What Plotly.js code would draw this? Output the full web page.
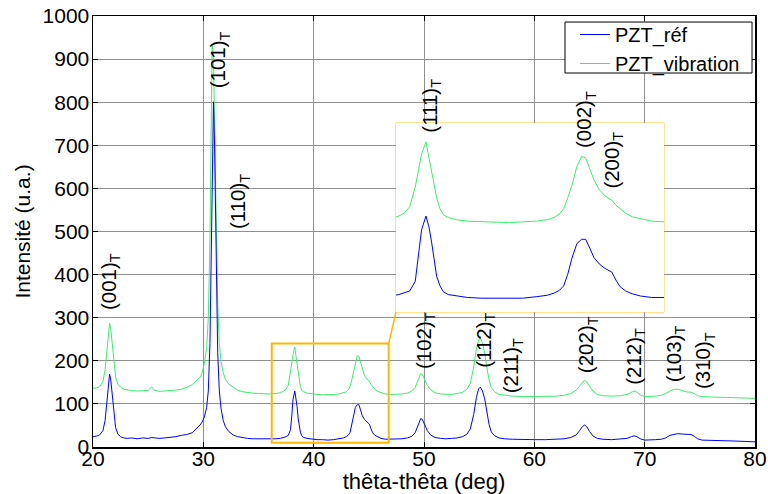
<!DOCTYPE html>
<html><head><meta charset="utf-8">
<script src="https://cdn.plot.ly/plotly-3.0.1.min.js"></script>
<style>body{margin:0;background:#fff}#chart{width:768px;height:494px}</style>
</head><body><div id="chart"></div>
<script>
// 2-theta positions (deg)
const theta = [20.0,20.3,20.6,20.9,21.1,21.25,21.4,21.5,21.6,21.75,21.9,22.05,22.25,22.5,22.8,23.1,23.5,24.0,24.5,25.0,25.3,25.55,26.0,26.5,27.0,27.5,28.0,28.5,29.0,29.4,29.7,29.9,30.1,30.3,30.45,30.6,30.7,30.8,30.92,31.02,31.15,31.3,31.45,31.6,31.8,32.0,32.3,32.7,33.1,33.6,34.0,34.5,35.0,35.5,36.0,36.5,37.0,37.3,37.5,37.7,37.9,38.02,38.13,38.29,38.4,38.5,38.6,38.68,38.8,38.92,39.1,39.4,39.8,40.3,40.8,41.3,41.8,42.3,42.7,42.95,43.15,43.3,43.45,43.6,43.78,43.95,44.1,44.25,44.4,44.6,44.8,44.95,45.05,45.2,45.35,45.55,45.8,46.1,46.5,47.0,47.5,48.0,48.5,48.9,49.2,49.45,49.7,49.85,50.05,50.3,50.6,51.0,51.5,52.0,52.5,53.0,53.5,53.9,54.2,54.5,54.75,54.95,55.1,55.3,55.5,55.7,55.9,56.1,56.4,56.8,57.3,58.0,59.0,60.0,61.0,62.0,62.7,63.3,63.8,64.1,64.35,64.55,64.75,65.0,65.3,65.7,66.2,67.0,67.8,68.4,68.8,69.05,69.3,69.6,70.0,70.5,71.0,71.5,71.9,72.3,72.7,73.0,73.4,73.8,74.2,74.5,74.8,75.2,76.0,77.0,78.0,79.0,80.0];
// PZT_ref intensity (u.a.)
const ref = [24,25,28,38,62,100,150,169,158,115,72,45,30,24,21,20,21,19,21,20,22,21,20,21,22,24,27,29,33,42,51,58,70,92,130,240,400,620,801,700,430,220,130,90,62,47,36,28,24,21,20,19,19,18,18,19,20,22,24,27,40,74,111,130,115,93,65,47,34,26,22,20,18,17,17,16,17,19,21,24,28,34,50,72,92,98,98,86,73,64,58,55,53,42,33,27,23,20,18,18,18,19,21,25,33,48,66,64,52,38,28,22,20,19,20,21,24,30,42,75,115,135,139,130,112,82,52,35,26,21,19,18,17,17,17,18,19,22,28,38,47,51,47,36,26,20,18,17,18,20,24,26,24,19,16,16,17,18,21,27,30,31,30,29,29,25,19,16,15,15,14,13,12];
// PZT_vibration intensity (u.a.)
const vib = [136,137,140,152,180,222,268,287,276,232,190,162,146,139,134,132,131,130,131,131,140,132,129,130,130,132,134,138,145,154,162,172,195,230,300,480,700,935,900,760,520,330,240,200,172,157,146,138,132,128,126,125,124,123,123,124,126,130,134,143,170,195,215,232,210,192,172,155,140,132,128,125,123,122,121,121,122,123,125,128,133,140,155,172,198,212,210,195,180,166,158,154,152,145,140,134,129,126,123,122,122,123,125,130,138,152,170,168,157,143,133,126,123,122,122,124,127,134,148,185,228,248,253,242,218,185,155,138,128,122,120,118,117,117,117,118,120,124,132,142,151,155,151,140,130,122,119,118,119,122,126,130,127,121,117,117,118,120,124,130,134,134,131,128,127,124,119,117,116,115,115,114,113];
const seriesNames = ['PZT_réf','PZT_vibration'];
const seriesColors = ['#0000ff','#3cee6e'];
const xTicks = [20,30,40,50,60,70,80];
const yTicks = [0,100,200,300,400,500,600,700,800,900,1000];
const peakLabels = ['(001)','(101)','(110)','(102)','(112)','(211)','(202)','(212)','(103)','(310)','(111)','(002)','(200)'];
const peakLabelX = [21.5,31.45,33.3,50.1,55.5,58.0,64.8,69.1,72.7,75.4,50.6,64.6,67.1];
const peakLabelY = [384,898,570,246,248,188,237,211,216,200,791,759,666];
const zoomBoxX = [36.2,46.8];
const zoomBoxY = [10,240];
const insetRangeX = [37.2,46.95];
const insetRangeY = [-2,258];
const insetDomX = [0.4577,0.8625];
const insetDomY = [0.3132,0.7517];
const legendBoxX = [0.713,0.9955];
const legendBoxY = [0.8677,0.986];

const mainX = [20,80], mainY = [0,1000];
const traces = [
  {x:theta,y:vib,type:'scatter',mode:'lines',name:seriesNames[1],line:{color:seriesColors[1],width:1},legendrank:2},
  {x:theta,y:ref,type:'scatter',mode:'lines',name:seriesNames[0],line:{color:seriesColors[0],width:1},legendrank:1},
  {x:theta,y:vib,xaxis:'x2',yaxis:'y2',type:'scatter',mode:'lines',showlegend:false,line:{color:seriesColors[1],width:1}},
  {x:theta,y:ref,xaxis:'x2',yaxis:'y2',type:'scatter',mode:'lines',showlegend:false,line:{color:seriesColors[0],width:1}}
];
const annotations = peakLabels.map((t,i)=>({
  text:t+'<sub>T</sub>', x:peakLabelX[i], y:peakLabelY[i], xref:'x', yref:'y',
  showarrow:false, textangle:-90, xanchor:'center', yanchor:'middle',
  font:{size:20.5,color:'#000'}
}));
const px = v => (v-mainX[0])/(mainX[1]-mainX[0]);
const py = v => (v-mainY[0])/(mainY[1]-mainY[0]);
const shapes = [
  {type:'rect',xref:'x2 domain',yref:'y2 domain',x0:0,x1:1,y0:0,y1:1,layer:'below',fillcolor:'#ffffff',line:{color:'#ffc826',width:1}},
  {type:'rect',xref:'x',yref:'y',x0:zoomBoxX[0],x1:zoomBoxX[1],y0:zoomBoxY[0],y1:zoomBoxY[1],line:{color:'#ffb800',width:2}},
  {type:'line',xref:'paper',yref:'paper',x0:px(zoomBoxX[1]),y0:py(zoomBoxY[1]),x1:insetDomX[0],y1:insetDomY[0],line:{color:'#ffb800',width:1.5}},
  {type:'rect',xref:'paper',yref:'paper',x0:legendBoxX[0],x1:legendBoxX[1],y0:legendBoxY[0],y1:legendBoxY[1],layer:'above',fillcolor:'#ffffff',line:{color:'#000',width:1}}
];
const axisCommon = {ticks:'inside',ticklen:5,tickcolor:'#000',showgrid:true,gridcolor:'#8f8f8f',gridwidth:1,
  showline:true,mirror:'ticks',linecolor:'#000',linewidth:1.5,zeroline:false,tickfont:{size:21,color:'#000'}};
const layout = {
  width:768,height:494,margin:{l:93,r:13,t:16,b:47},
  paper_bgcolor:'#fff',plot_bgcolor:'#fff',
  font:{family:'"Liberation Sans", Arial, sans-serif',size:20,color:'#000'},
  xaxis:Object.assign({},axisCommon,{range:mainX,tickvals:xTicks,ticklabelstandoff:-8,title:{text:'thêta-thêta (deg)',font:{size:22},standoff:4}}),
  yaxis:Object.assign({},axisCommon,{range:mainY,tickvals:yTicks,ticklabelstandoff:-2,title:{text:'Intensité (u.a.)',font:{size:21},standoff:6}}),
  xaxis2:{domain:insetDomX,anchor:'y2',range:insetRangeX,showgrid:false,showticklabels:false,ticks:'',zeroline:false,showline:false},
  yaxis2:{domain:insetDomY,anchor:'x2',range:insetRangeY,showgrid:false,showticklabels:false,ticks:'',zeroline:false,showline:false},
  legend:{x:0.728,y:1.0023,xanchor:'left',yanchor:'top',borderwidth:0,bgcolor:'rgba(0,0,0,0)',font:{size:20},traceorder:'normal',tracegroupgap:0},
  showlegend:true,shapes:shapes,annotations:annotations
};
Plotly.newPlot('chart',traces,layout,{displayModeBar:false,staticPlot:true});
</script></body></html>
